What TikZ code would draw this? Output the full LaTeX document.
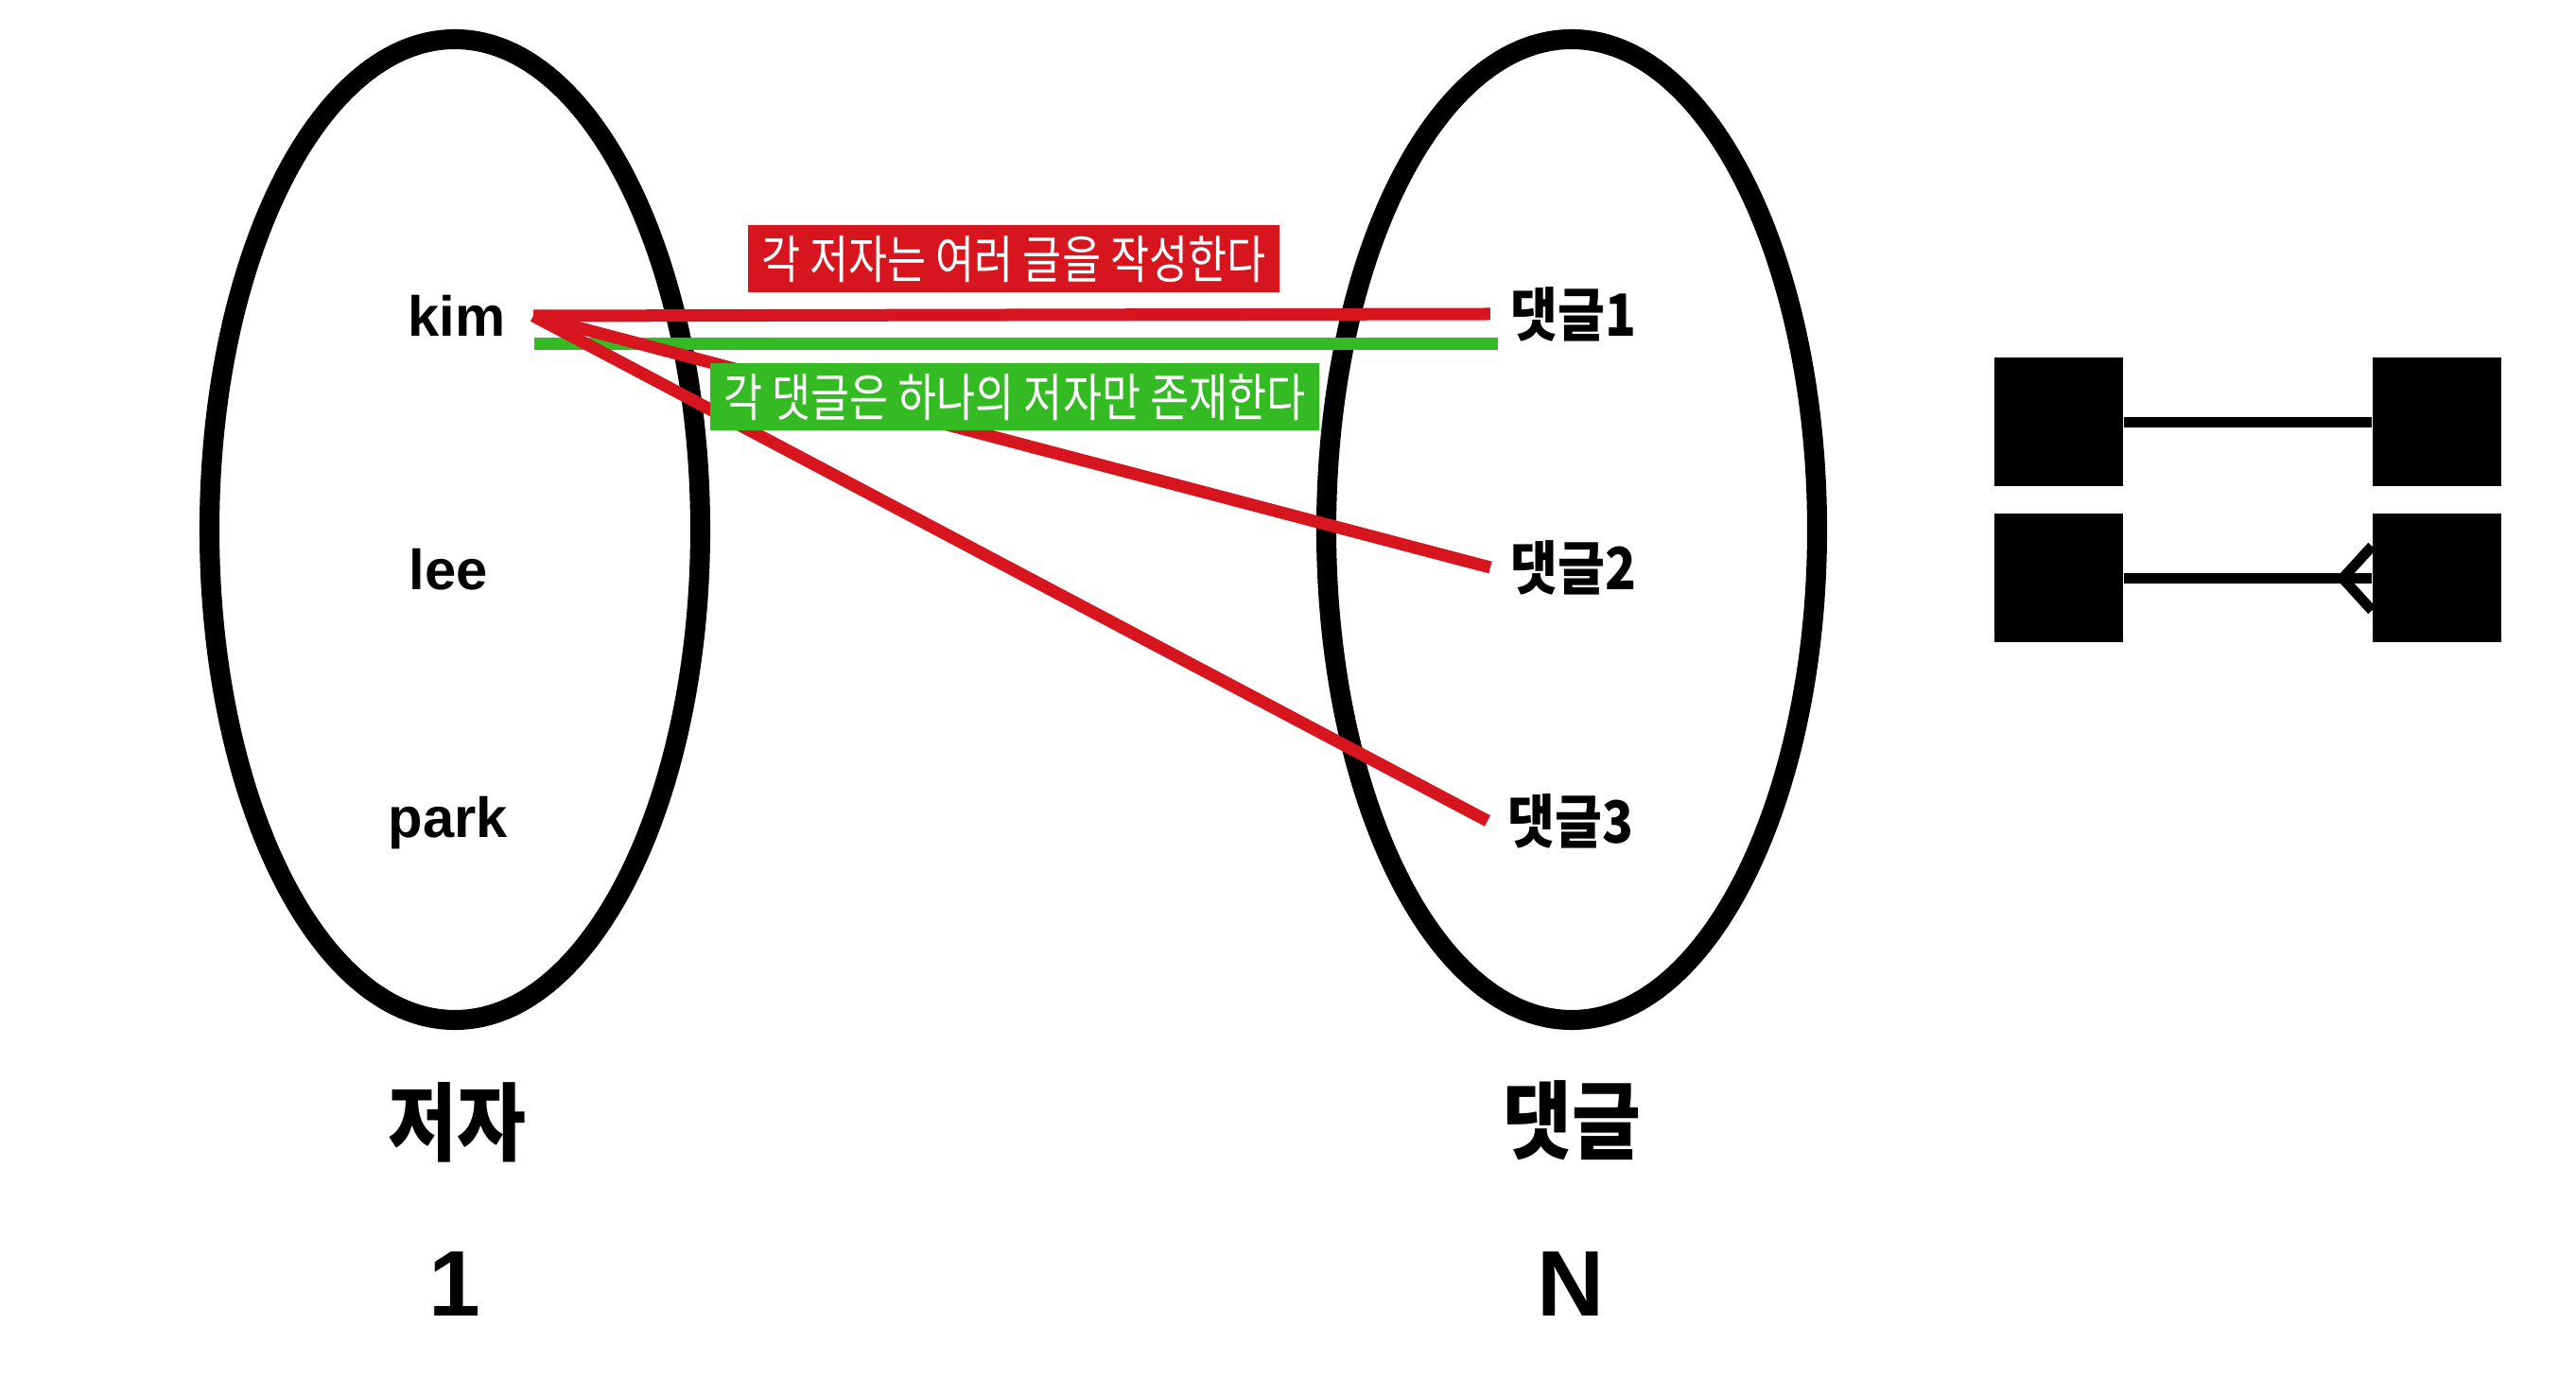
\documentclass[tikz,border=0pt]{standalone}
\usepackage{fontspec}
\setmainfont{Liberation Sans}
\newfontfamily\kr[FakeStretch=0.88]{Noto Sans CJK KR}
\newfontfamily\krnote[FakeStretch=0.82]{Noto Sans CJK KR}
\usepackage{tikz}
\usetikzlibrary{shapes.geometric, arrows}
\definecolor{relred}{RGB}{214,21,31}
\definecolor{relgreen}{RGB}{52,186,34}
\tikzstyle{setring} = [ellipse, draw=black, line width=6pt, minimum width=5.19cm, minimum height=10.37cm]
\tikzstyle{member} = [font=\fontsize{17}{20}\selectfont\bfseries]
\tikzstyle{reply} = [font=\kr\fontsize{17.5}{20}\selectfont\bfseries, inner sep=6pt]
\tikzstyle{title} = [font=\kr\fontsize{25.6}{30}\selectfont\bfseries]
\tikzstyle{card} = [font=\fontsize{28}{32}\selectfont\bfseries]
\tikzstyle{note} = [text=white, font=\krnote\fontsize{15.5}{18}\selectfont, minimum height=0.71cm, inner xsep=4pt, inner ysep=0pt]
\tikzstyle{link} = [line width=3.7pt]
\tikzstyle{entity} = [rectangle, fill=black, minimum size=1.36cm, inner sep=0pt]
\tikzstyle{erline} = [line width=3.1pt]

\begin{document}
\begin{tikzpicture}[node distance=2.68cm]
\useasboundingbox (0,0) rectangle (27.24,-14.56);
\node (authorset) [setring] at (4.81,-5.60) {};
\node (commentset) [setring] at (16.62,-5.60) {};
\node (kim) [member] at (4.83,-3.34) {kim};
\node (lee) [member, below of=kim, xshift=-0.09cm] {lee};
\node (park) [member, below of=lee] {park};
\node (c1) [reply] at (16.64,-3.32) {댓글1};
\node (c2) [reply, below of=c1] {댓글2};
\node (c3) [reply, below of=c2, xshift=-0.03cm] {댓글3};
\node (author) [title] at (4.83,-11.87) {저자};
\node (comment) [title] at (16.62,-11.85) {댓글};
\node (one) [card] at (4.81,-13.58) {1};
\node (many) [card] at (16.61,-13.58) {N};
\coordinate (kimout) at (5.64,-3.34);
\coordinate (greenfrom) at (5.65,-3.64);
\coordinate (greento) at (15.84,-3.64);
\draw [link, relred] (kimout) -- (c1.west);
\draw [link, relgreen] (greenfrom) -- (greento);
\draw [link, relred] (kimout) -- (c2.west);
\draw [link, relred] (kimout) -- (c3.west);
\node (manynote) [note, fill=relred] at (10.72,-2.74) {각 저자는 여러 글을 작성한다};
\node (onenote) [note, fill=relgreen] at (10.73,-4.20) {각 댓글은 하나의 저자만 존재한다};
\node (e1a) [entity] at (21.77,-4.465) {};
\node (e1b) [entity, right of=e1a, node distance=4cm] {};
\node (e2a) [entity, below of=e1a, node distance=1.65cm] {};
\node (e2b) [entity, right of=e2a, node distance=4cm] {};
\draw [erline] (e1a) -- (e1b);
\draw [erline] (e2a) -- (e2b);
\draw [erline] ([yshift=0.34cm]e2b.west) -- ++(-0.31,-0.34) -- ++(0.31,-0.34);
\end{tikzpicture}
\end{document}
